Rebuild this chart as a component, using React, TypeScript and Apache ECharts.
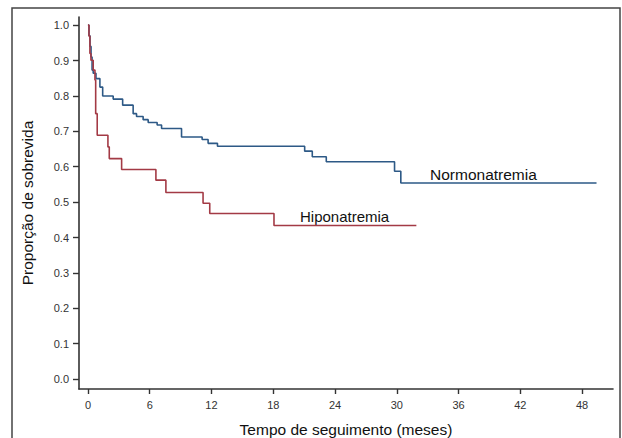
import React, { useEffect, useRef } from "react";
import * as echarts from "echarts";

// Kaplan-Meier step data: time (months) of each drop and survival after it
const normTimes = [0, 0.1, 0.2, 0.3, 0.4, 0.51, 0.78, 1.16, 1.43, 2.45, 3.37, 4.39, 4.72, 5.36, 5.85, 6.72, 7.15, 9.09, 11.09, 11.67, 12.58, 21.05, 21.79, 23.15, 29.78, 30.39, 49.4];
const normSurv = [1.0, 0.97, 0.94, 0.91, 0.873, 0.864, 0.849, 0.825, 0.8, 0.791, 0.774, 0.75, 0.742, 0.733, 0.725, 0.718, 0.708, 0.684, 0.677, 0.666, 0.658, 0.644, 0.628, 0.614, 0.587, 0.554, 0.554];

const hipoTimes = [0, 0.1, 0.19, 0.29, 0.51, 0.68, 0.75, 0.9, 1.94, 2.07, 3.27, 6.6, 7.57, 11.18, 11.83, 18.07, 31.9];
const hipoSurv = [1.0, 0.969, 0.92, 0.901, 0.873, 0.845, 0.75, 0.689, 0.656, 0.623, 0.592, 0.562, 0.527, 0.497, 0.468, 0.434, 0.434];

const xTicks = [0, 6, 12, 18, 24, 30, 36, 42, 48];
const yTicks = [0, 0.1, 0.2, 0.3, 0.4, 0.5, 0.6, 0.7, 0.8, 0.9, 1.0];

const seriesNames = ["Normonatremia", "Hiponatremia"];
const xTitle = "Tempo de seguimento (meses)";
const yTitle = "Proporção de sobrevida";

const FONT = "'Liberation Sans', Arial, sans-serif";

export default function App() {
  const ref = useRef<HTMLDivElement>(null);
  useEffect(() => {
    if (!ref.current) return;
    const chart = echarts.init(ref.current, null, { renderer: "svg" });
    const norm = normTimes.map((t, i) => [t, normSurv[i]]);
    const hipo = hipoTimes.map((t, i) => [t, hipoSurv[i]]);
    const axisLine = { show: true, onZero: false, lineStyle: { color: "#333", width: 1.6 } };
    chart.setOption({
      animation: false,
      backgroundColor: "#fff",
      grid: { left: 79, right: 9, top: 17, bottom: 49, containLabel: false, outerBoundsMode: "none" },
      xAxis: {
        type: "value",
        min: -0.87,
        max: 51,
        axisLine,
        splitLine: { show: false },
        axisTick: { show: true, length: 5, customValues: xTicks, lineStyle: { color: "#333", width: 1.4 } },
        axisLabel: { customValues: xTicks, margin: 10, fontSize: 11, color: "#333", fontFamily: FONT },
        name: xTitle,
        nameLocation: "middle",
        nameGap: 32,
        nameTextStyle: { fontSize: 15.5, color: "#111", fontFamily: FONT, verticalAlign: "top" },
      },
      yAxis: {
        type: "value",
        min: -0.028,
        max: 1.023,
        axisLine,
        splitLine: { show: false },
        axisTick: { show: true, length: 6, customValues: yTicks, lineStyle: { color: "#333", width: 1.4 } },
        axisLabel: {
          customValues: yTicks,
          margin: 10,
          fontSize: 11,
          color: "#333",
          fontFamily: FONT,
          formatter: (v: number) => v.toFixed(1),
        },
        name: yTitle,
        nameLocation: "middle",
        nameGap: 44,
        nameRotate: 90,
        nameTextStyle: { fontSize: 15.5, color: "#111", fontFamily: FONT },
      },
      series: [
        {
          name: seriesNames[0],
          type: "line",
          step: "end",
          data: norm,
          symbol: "none",
          lineStyle: { color: "#2d5986", width: 1.6 },
        },
        {
          name: seriesNames[1],
          type: "line",
          step: "end",
          data: hipo,
          symbol: "none",
          lineStyle: { color: "#a33a45", width: 1.6 },
        },
      ],
      graphic: [
        {
          type: "rect",
          shape: { x: 12, y: 8, width: 608, height: 445 },
          style: { fill: "none", stroke: "#444", lineWidth: 1.5 },
          silent: true,
        },
        {
          type: "text",
          x: 430,
          y: 174,
          style: { text: seriesNames[0], fill: "#111", font: `15.5px ${FONT}`, verticalAlign: "middle" },
        },
        {
          type: "text",
          x: 300,
          y: 216,
          style: { text: seriesNames[1], fill: "#111", font: `15px ${FONT}`, verticalAlign: "middle" },
        },
      ],
    });
    return () => chart.dispose();
  }, []);
  return <div ref={ref} style={{ width: 622, height: 438, position: "absolute", left: 0, top: 0 }} />;
}
